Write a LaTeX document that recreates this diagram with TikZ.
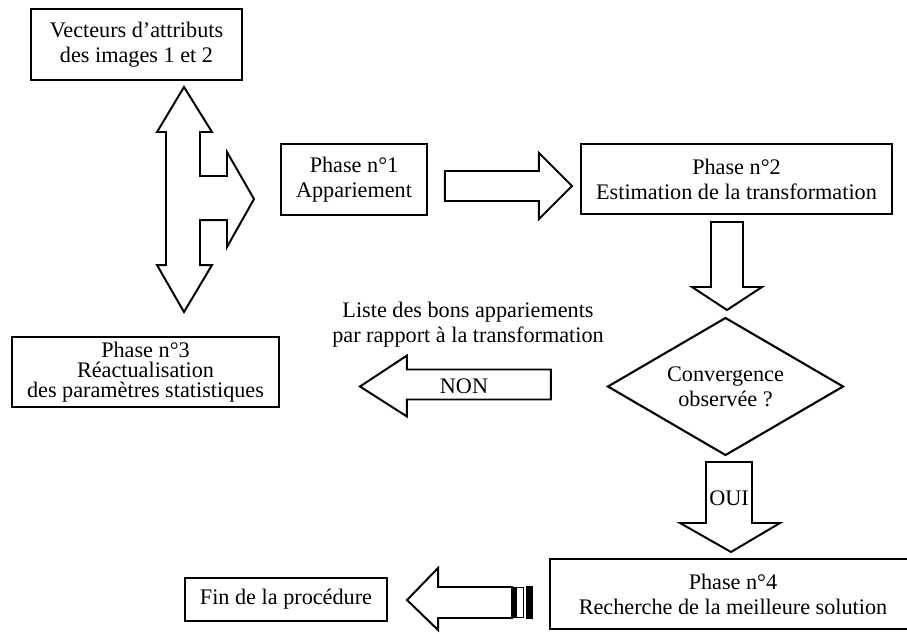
\documentclass[tikz,border=0pt]{standalone}
\usepackage{fontspec}
\setmainfont{Liberation Serif}
\usetikzlibrary{calc,shapes.geometric}

\tikzset{
  box/.style={draw,line width=1.5pt,inner sep=0pt,outer sep=0pt,align=center},
  blk/.style={draw,line width=1.4pt,fill=white,line join=miter},
}

\begin{document}
\begin{tikzpicture}[x=0.025cm,y=-0.025cm,font=\fontsize{15.8}{17.8}\selectfont]
\useasboundingbox (0,0) rectangle (907,633);
\node[box,minimum width=5.275cm,minimum height=1.775cm] (vec) at (136.5,44.5) {Vecteurs d’attributs\\des images 1 et 2};
\node[box,minimum width=3.65cm,minimum height=1.775cm] (p1) at (354,179.5) {Phase n°1\\Appariement};
\node[box,minimum width=7.775cm,minimum height=1.75cm] (p2) at (736.5,179) {Phase n°2\\Estimation de la transformation};
\node[box,minimum width=6.675cm,minimum height=1.75cm,font=\fontsize{15.8}{14.3}\selectfont] (p3) at (145.5,372) {Phase n°3\\Réactualisation\\des paramètres statistiques};
\node[box,diamond,aspect=1.7,minimum width=5.875cm,minimum height=3.425cm] (conv) at (725.5,386.5) {Convergence\\observée ?};
\node[box,minimum width=9.15cm,minimum height=1.75cm] (p4) at (733,594) {Phase n°4\\Recherche de la meilleure solution};
\node[box,minimum width=5.05cm,minimum height=1.075cm] (fin) at (286,599.5) {Fin de la procédure};
\node[align=center] (liste) at (468,325) {Liste des bons appariements\\par rapport à la transformation};

% double arrow with branch
\draw[blk] ($(vec.south)+(47.5,7)$) -- ++(-27,45) -- ++(9,0) -- ++(0,133) -- ++(-9,0) -- ++(27,47) -- ++(28,-47) -- ++(-12,0) -- ++(0,-45) -- ++(27,0) -- ++(0,27) -- ++(27,-48) -- ++(-27,-47) -- ++(0,24) -- ++(-27,0) -- ++(0,-44) -- ++(12,0) -- cycle;
% phase 1 -> phase 2
\draw[blk] ($(p2.west)+(-9,7)$) -- ++(-33,-33) -- ++(0,18) -- ++(-94,0) -- ++(0,30) -- ++(94,0) -- ++(0,18) -- cycle;
% phase 2 -> test
\draw[blk] ($(conv.north)+(1.5,-8)$) -- ++(35,-23) -- ++(-19,0) -- ++(0,-65) -- ++(-32,0) -- ++(0,65) -- ++(-19,0) -- cycle;
% non
\draw[blk] ($(conv.west)+(-248,0)$) -- ++(47,-31) -- ++(0,14) -- ++(144,0) -- ++(0,30) -- ++(-144,0) -- ++(0,17) -- cycle;
\node (non) at (464,386) {NON};
% oui
\draw[blk] ($(p4.north)+(-2,-7)$) -- ++(49,-29) -- ++(-28,0) -- ++(0,-61) -- ++(-46,0) -- ++(0,61) -- ++(-26,0) -- cycle;
\node (oui) at (729,498) {OUI};
% fin
\draw[blk] ($(fin.east)+(20,0.5)$) -- ++(31,-32) -- ++(0,19) -- ++(74,0) -- ++(0,31) -- ++(-74,0) -- ++(0,12) -- cycle;
\fill (512,587) rectangle (516,618);
\draw[line width=1pt] (516,587.5) rectangle (523.5,617.5);
\fill (525.5,586) rectangle (533,619);
\end{tikzpicture}
\end{document}
